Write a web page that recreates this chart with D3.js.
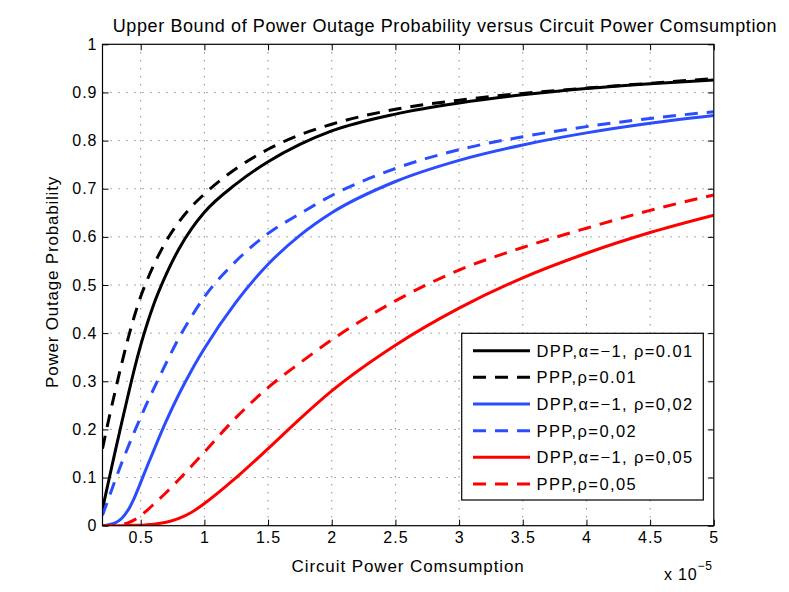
<!DOCTYPE html>
<html>
<head>
<meta charset="utf-8">
<script src="https://cdn.jsdelivr.net/npm/d3@7"></script>
<style>
  html, body { margin: 0; padding: 0; background: #fff; }
  svg text { font-family: "Liberation Sans", Arial, Helvetica, sans-serif; fill: #000; }
</style>
</head>
<body>
<svg id="chart" width="789" height="592"></svg>
<script>
// ---------- data (x in units of 1e-5) ----------
const xs = [0.2, 0.25, 0.3, 0.35, 0.4, 0.45, 0.5, 0.55, 0.6, 0.7, 0.8, 0.9, 1.0, 1.25, 1.5, 1.75, 2.0, 2.5, 3.0, 3.5, 4.0, 4.5, 5.0];

const dppRho001 = [0.035, 0.095, 0.155, 0.213, 0.27, 0.325, 0.375, 0.419, 0.458, 0.522, 0.575, 0.617, 0.651, 0.71, 0.756, 0.792, 0.82, 0.855, 0.878, 0.895, 0.908, 0.918, 0.926];
const pppRho001 = [0.16, 0.222, 0.28, 0.336, 0.388, 0.435, 0.476, 0.51, 0.54, 0.591, 0.631, 0.663, 0.689, 0.742, 0.782, 0.812, 0.834, 0.865, 0.884, 0.898, 0.909, 0.919, 0.929];
const dppRho002 = [0.0, 0.002, 0.006, 0.015, 0.032, 0.058, 0.09, 0.123, 0.155, 0.217, 0.273, 0.323, 0.368, 0.465, 0.543, 0.603, 0.65, 0.715, 0.759, 0.791, 0.816, 0.836, 0.852];
const pppRho002 = [0.022, 0.058, 0.095, 0.13, 0.163, 0.195, 0.225, 0.255, 0.283, 0.338, 0.39, 0.435, 0.475, 0.55, 0.607, 0.648, 0.686, 0.742, 0.781, 0.808, 0.829, 0.846, 0.860];
const dppRho005 = [0.0, 0.0, 0.0, 0.0, 0.0004, 0.0007, 0.001, 0.002, 0.003, 0.007, 0.015, 0.028, 0.046, 0.1, 0.16, 0.222, 0.28, 0.375, 0.452, 0.515, 0.566, 0.609, 0.645];
const pppRho005 = [0.0, 0.0, 0.001, 0.003, 0.006, 0.012, 0.021, 0.032, 0.044, 0.069, 0.096, 0.124, 0.153, 0.225, 0.287, 0.338, 0.386, 0.467, 0.531, 0.578, 0.618, 0.655, 0.687];

const seriesNames = ["DPP,\u03B1=\u22121, \u03C1=0.01", "PPP,\u03C1=0.01", "DPP,\u03B1=\u22121, \u03C1=0,02", "PPP,\u03C1=0,02", "DPP,\u03B1=\u22121, \u03C1=0,05", "PPP,\u03C1=0,05"];
const seriesValues = [dppRho001, pppRho001, dppRho002, pppRho002, dppRho005, pppRho005];
const seriesColors = ["#000000", "#000000", "#2b4cff", "#2b4cff", "#ff0000", "#ff0000"];
const seriesDashed = [false, true, false, true, false, true];

const xTicks = [0.5, 1, 1.5, 2, 2.5, 3, 3.5, 4, 4.5, 5];
const yTicks = [0, 0.1, 0.2, 0.3, 0.4, 0.5, 0.6, 0.7, 0.8, 0.9, 1];

const titleText = "Upper Bound of Power Outage Probability versus Circuit Power Comsumption";
const xLabelText = "Circuit Power Comsumption";
const yLabelText = "Power Outage Probability";

// ---------- layout ----------
const L = 102.5, R = 713.8, T = 44.3, B = 525.7;
const svg = d3.select("#chart");
const x = d3.scaleLinear().domain([0.2, 5]).range([L, R]);
const y = d3.scaleLinear().domain([0, 1]).range([B, T]);

// grid
const grid = svg.append("g");
grid.selectAll("line.gx").data(xTicks.filter(d => d < 5)).enter().append("line")
  .attr("x1", d => x(d)).attr("x2", d => x(d)).attr("y1", T).attr("y2", B)
  .attr("stroke", "#555").attr("stroke-width", 1).attr("stroke-dasharray", "1,7");
grid.selectAll("line.gy").data(yTicks.filter(d => d > 0 && d < 1)).enter().append("line")
  .attr("x1", L).attr("x2", R).attr("y1", d => y(d)).attr("y2", d => y(d))
  .attr("stroke", "#555").attr("stroke-width", 1).attr("stroke-dasharray", "1,7");

// clip
svg.append("clipPath").attr("id", "clip").append("rect")
  .attr("x", L).attr("y", T - 2).attr("width", R - L).attr("height", B - T + 2);

// lines
const line = d3.line().x((d, i) => x(xs[i])).y(d => y(d)).curve(d3.curveMonotoneX);
const plot = svg.append("g").attr("clip-path", "url(#clip)");
seriesValues.forEach((vals, k) => {
  plot.append("path").datum(vals)
    .attr("d", line)
    .attr("fill", "none")
    .attr("stroke", seriesColors[k])
    .attr("stroke-width", 3)
    .attr("stroke-dasharray", seriesDashed[k] ? "13,9" : null);
});

// axes
const fmt = d => String(d);
const axB = svg.append("g").attr("transform", `translate(0,${B})`)
  .call(d3.axisBottom(x).tickValues(xTicks).tickSize(-6).tickPadding(6).tickFormat(fmt));
const axT = svg.append("g").attr("transform", `translate(0,${T})`)
  .call(d3.axisTop(x).tickValues(xTicks).tickSize(-6).tickFormat(""));
const axL = svg.append("g").attr("transform", `translate(${L},0)`)
  .call(d3.axisLeft(y).tickValues(yTicks).tickSize(-6).tickPadding(5).tickFormat(fmt));
const axRt = svg.append("g").attr("transform", `translate(${R},0)`)
  .call(d3.axisRight(y).tickValues(yTicks).tickSize(-6).tickFormat(""));
[axB, axT, axL, axRt].forEach(g => {
  g.select(".domain").remove();
  g.selectAll(".tick line").attr("stroke", "#000").attr("stroke-width", 1);
  g.selectAll(".tick text").attr("font-size", 16).attr("letter-spacing", 1)
    .attr("font-family", "Liberation Sans, Arial, sans-serif");
});
axB.selectAll(".tick text").attr("dy", "0.71em");

// frame
svg.append("rect").attr("x", L).attr("y", T).attr("width", R - L).attr("height", B - T)
  .attr("fill", "none").attr("stroke", "#000").attr("stroke-width", 1.2);

// title and labels
svg.append("text").attr("x", 445).attr("y", 31.5).attr("text-anchor", "middle")
  .attr("font-size", 18).attr("letter-spacing", 0.6).text(titleText);
svg.append("text").attr("x", (L + R) / 2).attr("y", 572).attr("text-anchor", "middle")
  .attr("font-size", 17).attr("letter-spacing", 0.9).text(xLabelText);
svg.append("text").attr("transform", `translate(57.5,282) rotate(-90)`)
  .attr("text-anchor", "middle").attr("font-size", 17).attr("letter-spacing", 0.8).text(yLabelText);
const exp = svg.append("text").attr("x", 664).attr("y", 580).attr("font-size", 16).attr("letter-spacing", 0.8);
exp.append("tspan").text("x 10");
exp.append("tspan").attr("dy", -10).attr("font-size", 12).text("\u22125");

// legend
const lg = svg.append("g");
lg.append("rect").attr("x", 461.7).attr("y", 333.3).attr("width", 703.3 - 461.7).attr("height", 500 - 333.3)
  .attr("fill", "#fff").attr("stroke", "#000").attr("stroke-width", 1.2);
seriesNames.forEach((name, k) => {
  const yy = 350.7 + k * 26.66;
  lg.append("line").attr("x1", 473).attr("x2", 530).attr("y1", yy).attr("y2", yy)
    .attr("stroke", seriesColors[k]).attr("stroke-width", 3)
    .attr("stroke-dasharray", seriesDashed[k] ? "13,9" : null);
  lg.append("text").attr("x", 536.5).attr("y", yy).attr("dy", "0.36em")
    .attr("font-size", 16.5).attr("letter-spacing", 1.4).text(name);
});
</script>
</body>
</html>
